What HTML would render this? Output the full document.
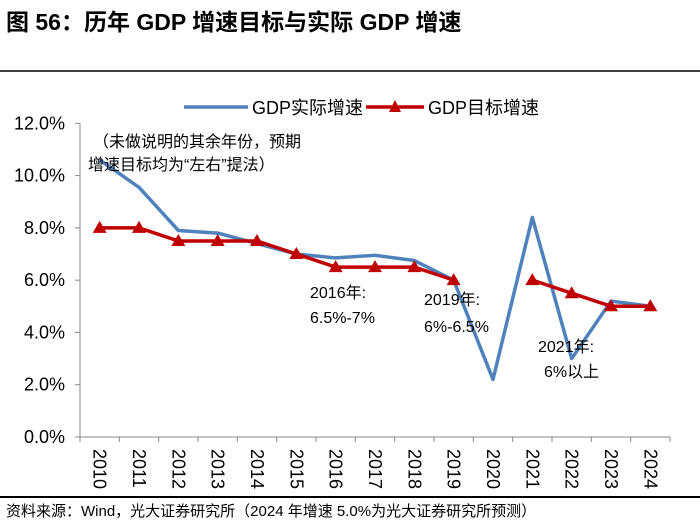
<!DOCTYPE html>
<html><head><meta charset="utf-8"><style>
body{margin:0;background:#fff;width:700px;height:526px;overflow:hidden;font-family:"Liberation Sans","Noto Sans CJK SC",sans-serif}
</style></head><body>
<svg width="700" height="526" xmlns="http://www.w3.org/2000/svg" font-family="Liberation Sans, Noto Sans CJK SC, sans-serif">
<text x="6" y="30" font-size="23" font-weight="bold" fill="#000">图 56：历年 GDP 增速目标与实际 GDP 增速</text>
<line x1="0" y1="71" x2="700" y2="71" stroke="#000" stroke-width="1.5"/>
<g id="legend">
<line x1="184" y1="107" x2="248" y2="107" stroke="#4f81bd" stroke-width="3.5"/>
<text x="252" y="114" font-size="18">GDP实际增速</text>
<line x1="366" y1="107" x2="424" y2="107" stroke="#c00000" stroke-width="3.5"/>
<polygon points="395,100 389,112 401,112" fill="#c00000"/>
<text x="428" y="114" font-size="18">GDP目标增速</text>
</g>
<g id="axes"></g>
<g id="series"></g>
<g font-size="16" fill="#000">
<text x="93" y="147">（未做说明的其余年份，预期</text>
<text x="88" y="170">增速目标均为“左右”提法）</text>
<text x="310" y="298">2016年:</text>
<text x="310" y="323">6.5%-7%</text>
<text x="424" y="305">2019年:</text>
<text x="424" y="332">6%-6.5%</text>
<text x="538" y="352">2021年:</text>
<text x="544" y="377">6%以上</text>
</g>
<line x1="0" y1="497" x2="700" y2="497" stroke="#000" stroke-width="2"/>
<text x="6" y="516" font-size="15">资料来源：Wind，光大证券研究所（2024 年增速 5.0%为光大证券研究所预测）</text>
</svg>
<script>
const years=["2010","2011","2012","2013","2014","2015","2016","2017","2018","2019","2020","2021","2022","2023","2024"];
const actual=[10.6,9.55,7.9,7.8,7.4,7.0,6.85,6.95,6.75,6.0,2.2,8.4,3.0,5.2,5.0];
const target=[8,8,7.5,7.5,7.5,7,6.5,6.5,6.5,6,null,6,5.5,5,5];
const yTicks=[0,2,4,6,8,10,12];
const NS="http://www.w3.org/2000/svg";
const x0=80,x1=670,y0=437,yTop=123.3,yMax=12;
const step=(x1-x0)/years.length;
const xs=i=>x0+step*(i+0.5);
const ys=v=>y0-(v/yMax)*(y0-yTop);
function mk(tag,attrs,parent,text){const e=document.createElementNS(NS,tag);for(const k in attrs)e.setAttribute(k,attrs[k]);if(text!==undefined)e.textContent=text;parent.appendChild(e);return e;}
const ax=document.getElementById('axes');
let l=mk('line',{x1:x0,y1:yTop,x2:x0,y2:y0,stroke:'#888','stroke-width':1},ax);


l=mk('line',{x1:x0,y1:y0,x2:x1,y2:y0,stroke:'#888','stroke-width':1},ax);


yTicks.forEach(t=>{const y=ys(t);
 const tk=mk('line',{x1:x0-5,y1:y,x2:x0,y2:y,stroke:'#888'},ax);
 
 
 const tx=mk('text',{x:65,y:y+6,'font-size':18,'text-anchor':'end',fill:'#000'},ax,t.toFixed(1)+'%');
 
 
});
for(let i=0;i<=years.length;i++){const x=x0+step*i;
 const tk=mk('line',{x1:x,y1:y0,x2:x,y2:y0+5,stroke:'#888'},ax);
 
 }
years.forEach((yr,i)=>{const x=xs(i)-6,y=y0+12;
 const tx=mk('text',{x:x,y:y,'font-size':18,transform:`rotate(90 ${x} ${y})`,fill:'#000'},ax,yr);
 
 });
const sg=document.getElementById('series');
const pa=actual.map((v,i)=>xs(i)+','+ys(v)).join(' ');
const la=mk('polyline',{points:pa,fill:'none',stroke:'#4f81bd','stroke-width':3.5,'stroke-linejoin':'round'},sg);


let seg=[];const segs=[];
target.forEach((v,i)=>{if(v===null){if(seg.length)segs.push(seg);seg=[];}else seg.push(xs(i)+','+ys(v));});
if(seg.length)segs.push(seg);
segs.forEach(s=>{const p=mk('polyline',{points:s.join(' '),fill:'none',stroke:'#c00000','stroke-width':3.5},sg);
 
 });
target.forEach((v,i)=>{if(v===null)return;const x=xs(i),y=ys(v);
 const m=mk('polygon',{points:`${x},${y-7} ${x-7},${y+5} ${x+7},${y+5}`,fill:'#c00000'},sg);
 
 });
</script>
</body></html>
